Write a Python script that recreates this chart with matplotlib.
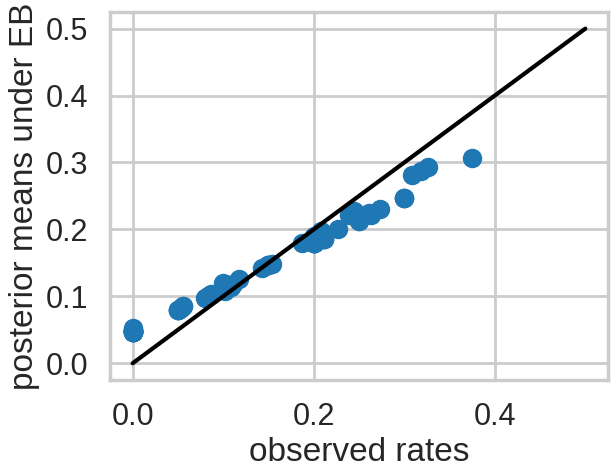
import matplotlib
matplotlib.use("Agg")
import matplotlib.pyplot as plt
import seaborn as sns

sns.set_theme(style="whitegrid", context="poster")
plt.rcParams['font.family'] = ['Liberation Sans', 'DejaVu Sans']

# observed tumor rates per experiment
observed = [0.0, 0.0, 0.0, 0.0, 0.0, 0.0, 0.0, 0.0, 0.0, 0.0, 0.0, 0.0, 0.0, 0.0,
            0.05, 0.05, 0.05, 0.05, 0.053, 0.053, 0.056, 0.056,
            0.08, 0.083, 0.087, 0.1, 0.1, 0.1, 0.1, 0.1, 0.1, 0.1,
            0.102, 0.105, 0.109, 0.111, 0.118, 0.143, 0.149, 0.15, 0.15, 0.154,
            0.1875, 0.2, 0.2, 0.2, 0.2, 0.2, 0.2, 0.2, 0.2, 0.208,
            0.211, 0.211, 0.211, 0.227, 0.239, 0.245, 0.25, 0.25,
            0.261, 0.263, 0.273, 0.3, 0.3, 0.3, 0.308, 0.326, 0.319, 0.375]

# posterior means under empirical Bayes
posterior = [0.047, 0.047, 0.047, 0.047, 0.047, 0.047, 0.047,
             0.048, 0.048, 0.048, 0.048, 0.05, 0.05, 0.052,
             0.08, 0.08, 0.08, 0.08, 0.083, 0.083, 0.086, 0.086,
             0.097, 0.1, 0.103, 0.113, 0.113, 0.113, 0.113, 0.113, 0.113, 0.12,
             0.108, 0.117, 0.114, 0.119, 0.126, 0.142, 0.147, 0.147, 0.147, 0.148,
             0.179, 0.19, 0.18, 0.18, 0.18, 0.18, 0.18, 0.18, 0.18, 0.197,
             0.186, 0.186, 0.186, 0.2, 0.221, 0.227, 0.213, 0.213,
             0.224, 0.221, 0.231, 0.247, 0.247, 0.247, 0.281, 0.293, 0.288, 0.306]

diag = [0, 0.5]

fig = plt.figure(figsize=(6.16, 4.76), dpi=100)
ax = fig.add_axes([0.1786, 0.2017, 0.8084, 0.7733])

ax.scatter(observed, posterior, color='#1f77b4')
ax.plot(diag, diag, color='#000000')

ax.set_xticks([0.0, 0.2, 0.4])
ax.set_yticks([0.0, 0.1, 0.2, 0.3, 0.4, 0.5])
ax.set_xlabel("observed rates")
ax.set_ylabel("posterior means under EB")

fig.savefig("out.png", dpi=100)
